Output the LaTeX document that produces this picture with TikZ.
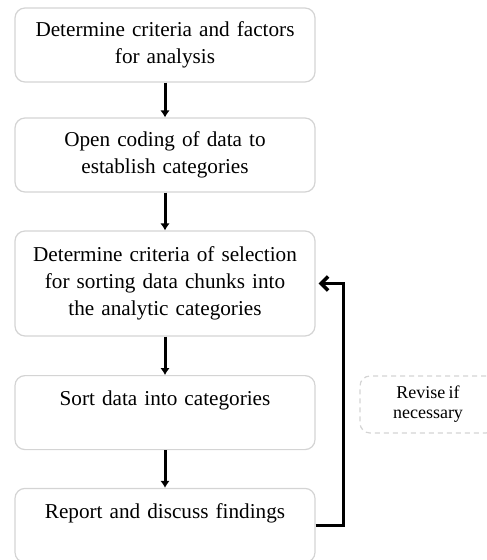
\documentclass[tikz,border=0pt]{standalone}
\usepackage{fontspec}
\setmainfont[WordSpace=0.75]{Liberation Serif}
\usetikzlibrary{positioning, arrows.meta}
\tikzset{
  stepbox/.style={draw=black!17, fill=white, rounded corners=5pt, line width=0.6pt,
    minimum width=150pt, minimum height=37pt, text width=138pt, inner xsep=6pt,
    align=center, font=\fontsize{10.6}{13.5}\selectfont},
  onebox/.style={stepbox, text depth=14.5pt},
  flow/.style={-{Latex[length=3.5pt,width=4.8pt]}, line width=1.5pt},
  back/.style={-{Straight Barb[length=3.5pt,width=7pt]}, line width=1.8pt},
  notebox/.style={draw=black!17, dashed, dash pattern=on 2.5pt off 2pt, rounded corners=5pt,
    line width=0.6pt, minimum width=68pt, minimum height=28.5pt, align=center,
    font=\fontsize{9}{10}\selectfont}
}
\begin{document}
\begin{tikzpicture}
    \useasboundingbox (0,0) rectangle (243pt,-280pt);
    \node[stepbox] (crit) at (82.5pt,-22.5pt) {Determine criteria and factors\\ for analysis};
    \node[stepbox, below=17.4pt of crit] (code) {Open coding of data to\\ establish categories};
    \node[stepbox, minimum height=52.5pt, below=18.9pt of code] (select) {Determine criteria of selection\\ for sorting data chunks into\\ the analytic categories};
    \node[onebox, below=19.2pt of select] (sort) {Sort data into categories};
    \node[onebox, below=18.8pt of sort] (report) {Report and discuss findings};
    \node[notebox] (revise) at (214pt,-202.25pt) {Revise if\\ necessary};
    \draw[flow] (crit) -- (code);
    \draw[flow] (code) -- (select);
    \draw[flow] (select) -- (sort);
    \draw[flow] (sort) -- (report);
    \draw[back] (report.east) -- ++(14pt,0) |- ([xshift=1.5pt]select.east);
\end{tikzpicture}
\end{document}
